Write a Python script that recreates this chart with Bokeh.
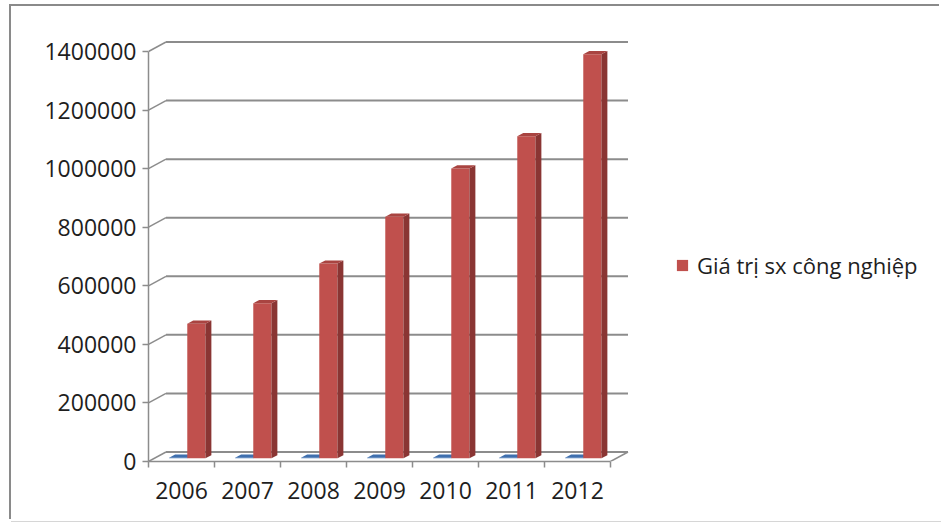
from bokeh.plotting import figure
from bokeh.models import (Range1d, FixedTicker, NumeralTickFormatter, Legend,
                          LegendItem)
from bokeh.embed import file_html
from bokeh.resources import INLINE

# ---- data -------------------------------------------------------------
years = ["2006", "2007", "2008", "2009", "2010", "2011", "2012"]
industrial_value = [460000, 530000, 665000, 825000, 990000, 1100000, 1380000]
year_series = [2006, 2007, 2008, 2009, 2010, 2011, 2012]  # "Năm" column, tiny on this scale
y_ticks = [0, 200000, 400000, 600000, 800000, 1000000, 1200000, 1400000]
legend_label = "Giá trị sx công nghiệp"

# ---- layout -----------------------------------------------------------
PAGE_W, PAGE_H = 941, 522
OFF_X, OFF_Y = 11, 6                    # chart area sits inside a thin frame line
W, H = PAGE_W - OFF_X, PAGE_H - OFF_Y - 1
LEFT, TOP = 137, 24
FRAME_BOTTOM = 455
BOTTOM = H - FRAME_BOTTOM
FRAME_W = W - LEFT
FRAME_H = FRAME_BOTTOM - TOP
PX_PER_CAT = 66.0
AXIS_TOP_PX = 410.0                     # pixel height of the labelled value span
px_per_val = AXIS_TOP_PX / y_ticks[-1]
n = len(years)

# oblique depth projection (pixels for a full unit of depth)
DEPTH_DX_PX, DEPTH_DY_PX = 17.5, 9.5
DX = DEPTH_DX_PX / PX_PER_CAT
DY = DEPTH_DY_PX / px_per_val
D0, D1 = 0.33, 0.67                     # bar slab position inside the depth

FONT = "Open Sans"
GRID = "#8c8c8c"
TEXT = "#1e1e1e"

p = figure(width=W, height=H, output_backend="svg", toolbar_location=None,
           x_range=Range1d(0, FRAME_W / PX_PER_CAT),
           y_range=Range1d(0, FRAME_H / px_per_val),
           min_border_left=LEFT, min_border_top=TOP,
           min_border_bottom=BOTTOM, min_border_right=0)
p.margin = (OFF_Y, 0, 0, OFF_X)
# frame line of the chart area: left and top in grey, a faint line at the bottom
p.styles = {"box-shadow": "-2px -2px 0 0 #8a8a8a, 0 1px 0 0 #d6d6d6"}
p.xgrid.visible = False
p.ygrid.visible = False
p.outline_line_color = None
p.background_fill_color = "white"
p.border_fill_color = "white"

# ---- walls: back gridlines, left wall slants, floor edge ---------------
p.segment(x0=[DX] * len(y_ticks), y0=[v + DY for v in y_ticks],
          x1=[n + DX] * len(y_ticks), y1=[v + DY for v in y_ticks],
          line_color=GRID, line_width=2)
p.segment(x0=[0] * len(y_ticks), y0=y_ticks,
          x1=[DX] * len(y_ticks), y1=[v + DY for v in y_ticks],
          line_color=GRID, line_width=1.5)
p.segment(x0=[n], y0=[0], x1=[n + DX], y1=[DY], line_color=GRID, line_width=1.5)


def box3d(values, a, b, front, side, top):
    """Front face, right side and top face of a column per category."""
    xs = [i + a + D0 * DX for i in range(n)]
    xe = [i + b + D0 * DX for i in range(n)]
    front_r = p.quad(left=xs, right=xe, bottom=[D0 * DY] * n,
                     top=[v + D0 * DY for v in values],
                     fill_color=front, line_color=None)
    side_xs, side_ys, top_xs, top_ys = [], [], [], []
    for i, v in enumerate(values):
        l0 = i + a + D0 * DX
        r0 = i + b + D0 * DX
        l1 = i + a + D1 * DX
        r1 = i + b + D1 * DX
        side_xs.append([r0, r1, r1, r0])
        side_ys.append([D0 * DY, D1 * DY, v + D1 * DY, v + D0 * DY])
        top_xs.append([l0, r0, r1, l1])
        top_ys.append([v + D0 * DY, v + D0 * DY, v + D1 * DY, v + D1 * DY])
    p.patches(side_xs, side_ys, fill_color=side, line_color=None)
    p.patches(top_xs, top_ys, fill_color=top, line_color=None)
    return front_r


box3d(year_series, 0.225, 0.5, "#4F81BD", "#385D8A", "#3F6FAE")
red = box3d(industrial_value, 0.5, 0.775, "#C0504D", "#8A3533", "#A94441")

# ---- axes ---------------------------------------------------------------
ya = p.yaxis[0]
ya.ticker = FixedTicker(ticks=y_ticks)
ya.formatter = NumeralTickFormatter(format="0")
ya.bounds = (0, y_ticks[-1])
ya.axis_line_color = GRID
ya.axis_line_width = 1.5
ya.major_tick_line_color = GRID
ya.major_tick_line_width = 1.5
ya.major_tick_out = 6
ya.major_tick_in = 0
ya.minor_tick_line_color = None
ya.major_label_standoff = 6
ya.major_label_text_font = FONT
ya.major_label_text_font_size = "23px"
ya.major_label_text_color = TEXT

xa = p.xaxis[0]
xa.ticker = FixedTicker(ticks=[i + 0.5 for i in range(n)],
                        minor_ticks=list(range(n + 1)))
xa.major_label_overrides = {i + 0.5: y for i, y in enumerate(years)}
xa.bounds = (0, n)
xa.axis_line_color = GRID
xa.axis_line_width = 1.5
xa.major_tick_line_color = None
xa.major_tick_out = 6
xa.major_tick_in = 0
xa.minor_tick_line_color = GRID
xa.minor_tick_line_width = 1.5
xa.minor_tick_out = 6
xa.minor_tick_in = 0
xa.major_label_standoff = 14
xa.major_label_text_font = FONT
xa.major_label_text_font_size = "23px"
xa.major_label_text_color = TEXT

# ---- legend ------------------------------------------------------------
legend = Legend(items=[LegendItem(label=legend_label, renderers=[red])],
                location=(527, 181), padding=0, margin=0, spacing=0,
                glyph_width=14, glyph_height=14, label_standoff=8,
                label_text_font=FONT, label_text_font_size="22px",
                label_text_color=TEXT, border_line_color=None,
                background_fill_alpha=0)
p.add_layout(legend)

open("out.html", "w").write(file_html(p, INLINE))
